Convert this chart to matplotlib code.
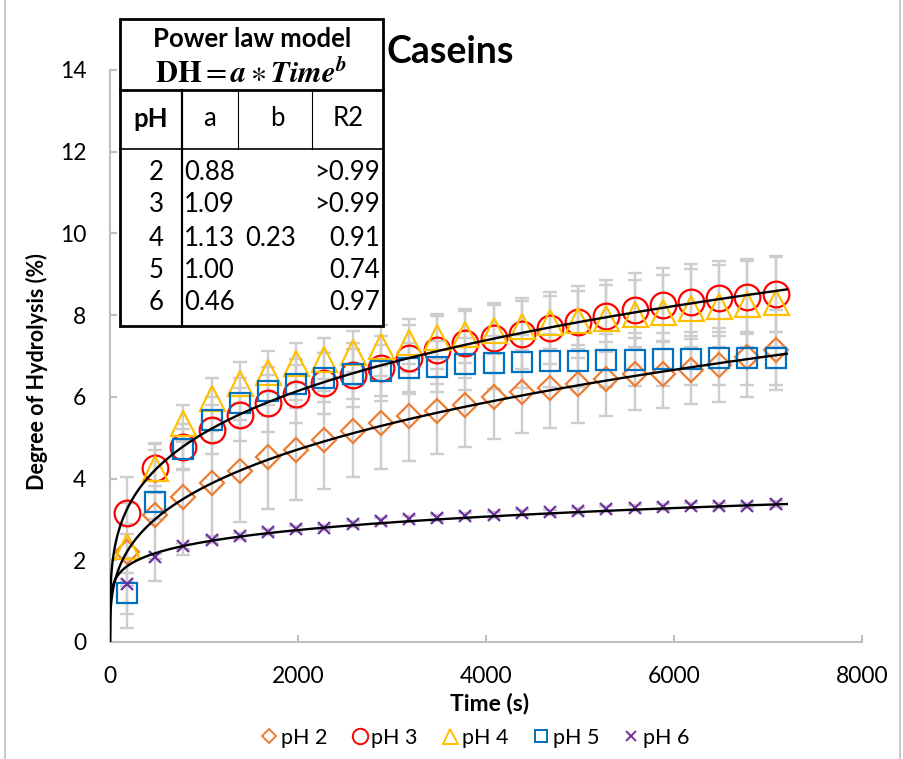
import numpy as np
import matplotlib
matplotlib.use("Agg")
import matplotlib.pyplot as plt
from matplotlib.lines import Line2D
from matplotlib.patches import Rectangle

plt.rcParams['font.family'] = ['Lato', 'DejaVu Sans']

# ---------------- data ----------------
time_s = [180, 480, 780, 1080, 1380, 1680, 1980, 2280, 2580, 2880, 3180, 3480,
          3780, 4080, 4380, 4680, 4980, 5280, 5580, 5880, 6180, 6480, 6780, 7080]

ph2 = [2.20, 3.10, 3.54, 3.88, 4.19, 4.52, 4.70, 4.94, 5.16, 5.37, 5.53, 5.65,
       5.80, 6.00, 6.11, 6.21, 6.31, 6.44, 6.55, 6.55, 6.66, 6.78, 6.98, 7.15]
ph2_err = [1.85, 1.60, 1.40, 1.28, 1.25, 1.27, 1.22, 1.20, 1.13, 1.14, 1.09, 1.04,
           1.02, 1.04, 1.00, 0.96, 0.96, 0.91, 0.88, 0.82, 0.83, 0.91, 0.98, 0.97]

ph3 = [3.15, 4.25, 4.78, 5.19, 5.56, 5.84, 6.07, 6.33, 6.53, 6.70, 6.94, 7.15,
       7.31, 7.44, 7.55, 7.68, 7.84, 7.98, 8.12, 8.25, 8.33, 8.41, 8.45, 8.52]
ph3_err = [0.25, 0.60, 0.55, 0.60, 0.65, 0.70, 0.72, 0.75, 0.78, 0.80, 0.82, 0.84,
           0.85, 0.86, 0.87, 0.88, 0.88, 0.89, 0.90, 0.90, 0.91, 0.92, 0.92, 0.93]

ph4 = [2.35, 4.27, 5.35, 5.96, 6.35, 6.62, 6.83, 6.93, 7.11, 7.25, 7.35, 7.47,
       7.55, 7.64, 7.74, 7.82, 7.88, 7.94, 8.02, 8.08, 8.17, 8.23, 8.27, 8.33]
ph4_err = [0.30, 0.60, 0.45, 0.50, 0.50, 0.50, 0.50, 0.50, 0.50, 0.50, 0.55, 0.55,
           0.55, 0.60, 0.60, 0.65, 0.70, 0.80, 0.85, 0.90, 0.95, 1.00, 1.05, 1.10]

ph5 = [1.19, 3.42, 4.72, 5.44, 5.86, 6.14, 6.32, 6.47, 6.56, 6.64, 6.70, 6.74,
       6.80, 6.84, 6.86, 6.88, 6.88, 6.90, 6.91, 6.92, 6.93, 6.94, 6.94, 6.94]
ph5_err = [0.50, 0.40, 0.50, 0.55, 0.60, 0.60, 0.60, 0.60, 0.62, 0.62, 0.63, 0.63,
           0.64, 0.64, 0.65, 0.65, 0.65, 0.65, 0.65, 0.65, 0.65, 0.65, 0.65, 0.65]

ph6 = [1.42, 2.09, 2.35, 2.50, 2.60, 2.70, 2.77, 2.80, 2.89, 2.97, 3.01, 3.03,
       3.08, 3.11, 3.15, 3.17, 3.21, 3.25, 3.28, 3.31, 3.34, 3.34, 3.34, 3.37]
ph6_err = [0.06, 0.07, 0.07, 0.07, 0.07, 0.07, 0.07, 0.07, 0.07, 0.07, 0.07, 0.07,
           0.07, 0.07, 0.07, 0.07, 0.07, 0.07, 0.07, 0.07, 0.07, 0.07, 0.07, 0.07]

series_labels = ['pH 2', 'pH 3', 'pH 4', 'pH 5', 'pH 6']

# power-law trendlines drawn on the chart (pH 2, pH 3, pH 6)
fit_labels = ['pH 2', 'pH 3', 'pH 6']
fit_a = [0.43, 0.82, 0.794]
fit_b = [0.315, 0.265, 0.163]
fit_tmax = 7200

# table
table_ph = ['2', '3', '4', '5', '6']
table_a = ['0.88', '1.09', '1.13', '1.00', '0.46']
table_b = '0.23'
table_r2 = ['>0.99', '>0.99', '0.91', '0.74', '0.97']

# ---------------- figure ----------------
W, H = 904, 759
fig = plt.figure(figsize=(W / 100, H / 100), dpi=100)

def fx(x):
    return x / W

def fy(y):
    return 1 - y / H

ax = fig.add_axes([fx(110), fy(642), fx(862) - fx(110), fy(70) - fy(642)])

styles = {
    'pH 2': dict(marker='D', color='#ED7D31', ms=12.0),
    'pH 3': dict(marker='o', color='#FF0000', ms=18.5),
    'pH 4': dict(marker='^', color='#FFC000', ms=18.0),
    'pH 5': dict(marker='s', color='#0070C0', ms=15.0),
    'pH 6': dict(marker='x', color='#7030A0', ms=9.0),
}
values = [ph2, ph3, ph4, ph5, ph6]
errs = [ph2_err, ph3_err, ph4_err, ph5_err, ph6_err]

err_col = '#cdcdcd'
for lab, v, e in zip(series_labels, values, errs):
    ax.errorbar(time_s, v, yerr=e, fmt='none', ecolor=err_col, elinewidth=1.7,
                capsize=5, capthick=1.7, zorder=1)

handles = []
for lab, v in zip(series_labels, values):
    st = styles[lab]
    ax.plot(time_s, v, linestyle='none', marker=st['marker'], ms=st['ms'],
            markerfacecolor='none', markeredgecolor=st['color'],
            markeredgewidth=1.6, zorder=3)
    handles.append(Line2D([], [], linestyle='none', marker=st['marker'],
                          ms=st['ms'] * (0.6 if st['marker'] != 'x' else 0.8),
                          markerfacecolor='none', markeredgecolor=st['color'],
                          markeredgewidth=1.4, label=lab))

t = np.linspace(0, fit_tmax, 3000)
for a, b in zip(fit_a, fit_b):
    ax.plot(t, a * t ** b, color='black', lw=1.7, zorder=4)

ax.set_xlim(0, 8000)
ax.set_ylim(0, 14)
ax.set_xticks([0, 2000, 4000, 6000, 8000])
ax.set_yticks([0, 2, 4, 6, 8, 10, 12, 14])
for s in ['top', 'right']:
    ax.spines[s].set_visible(False)
for s in ['left', 'bottom']:
    ax.spines[s].set_color('#bfbfbf')
    ax.spines[s].set_linewidth(1.5)
ax.tick_params(axis='both', direction='in', length=5, width=1.5, color='#bfbfbf',
               labelsize=16.5)
ax.tick_params(axis='y', pad=17)
ax.tick_params(axis='x', pad=17)

fig.text(fx(490), fy(703), 'Time (s)', ha='center', va='center', fontsize=16.5,
         fontweight='bold')
fig.text(fx(37), fy(372), 'Degree of Hydrolysis (%)', ha='center', va='center',
         fontsize=15.5, fontweight='bold', rotation=90)
fig.text(fx(387), fy(52), 'Caseins', ha='left', va='center', fontsize=27,
         fontweight='bold')

fig.legend(handles=handles, loc='center', bbox_to_anchor=(fx(474), fy(738)),
           ncol=5, frameon=False, fontsize=15.5, handletextpad=0.05,
           columnspacing=1.0, handlelength=1.0)

# chart border (left / right)
fig.add_artist(Line2D([fx(5), fx(5)], [0, 1], color='#bfbfbf', lw=1.2))
fig.add_artist(Line2D([fx(900), fx(900)], [0, 1], color='#bfbfbf', lw=1.2))

# ---------------- table ----------------
tl, tr, tt, tb = 120, 383, 19, 326

def hline(y, x0, x1, lw):
    fig.add_artist(Line2D([fx(x0), fx(x1)], [fy(y), fy(y)], color='black', lw=lw,
                          zorder=7))

def vline(x, y0, y1, lw):
    fig.add_artist(Line2D([fx(x), fx(x)], [fy(y0), fy(y1)], color='black', lw=lw,
                          zorder=7))

fig.add_artist(Rectangle((fx(tl), fy(tb)), fx(tr) - fx(tl), fy(tt) - fy(tb),
                         facecolor='white', edgecolor='black', lw=2.0, zorder=5))
hline(90, tl, tr, 2.0)
hline(149, tl, tr, 1.2)
vline(182, 90, tb, 1.6)
vline(238, 90, 149, 0.8)
vline(312, 90, 149, 0.8)

tfs = 18.5
fig.text(fx(252), fy(39), 'Power law model', ha='center', va='center',
         fontsize=tfs, fontweight='bold', zorder=6)
fig.text(fx(251), fy(73), r'$\mathbf{DH} = \mathbfit{a} \ast \mathbfit{Time}^{\mathbfit{b}}$',
         ha='center', va='center', fontsize=22, math_fontfamily='stix', zorder=6)
fig.text(fx(151), fy(119), 'pH', ha='center', va='center', fontsize=tfs,
         fontweight='bold', zorder=6)
fig.text(fx(210), fy(119), 'a', ha='center', va='center', fontsize=tfs, zorder=6)
fig.text(fx(277), fy(119), 'b', ha='center', va='center', fontsize=tfs, zorder=6)
fig.text(fx(348), fy(119), 'R2', ha='center', va='center', fontsize=tfs, zorder=6)

row_y = [172, 205, 238, 271, 303]
for i, yy in enumerate(row_y):
    fig.text(fx(156), fy(yy), table_ph[i], ha='center', va='center', fontsize=tfs, zorder=6)
    fig.text(fx(184), fy(yy), table_a[i], ha='left', va='center', fontsize=tfs, zorder=6)
    fig.text(fx(380), fy(yy), table_r2[i], ha='right', va='center', fontsize=tfs, zorder=6)
fig.text(fx(271), fy(row_y[2]), table_b, ha='center', va='center', fontsize=tfs, zorder=6)

fig.savefig('out.png', dpi=100)
